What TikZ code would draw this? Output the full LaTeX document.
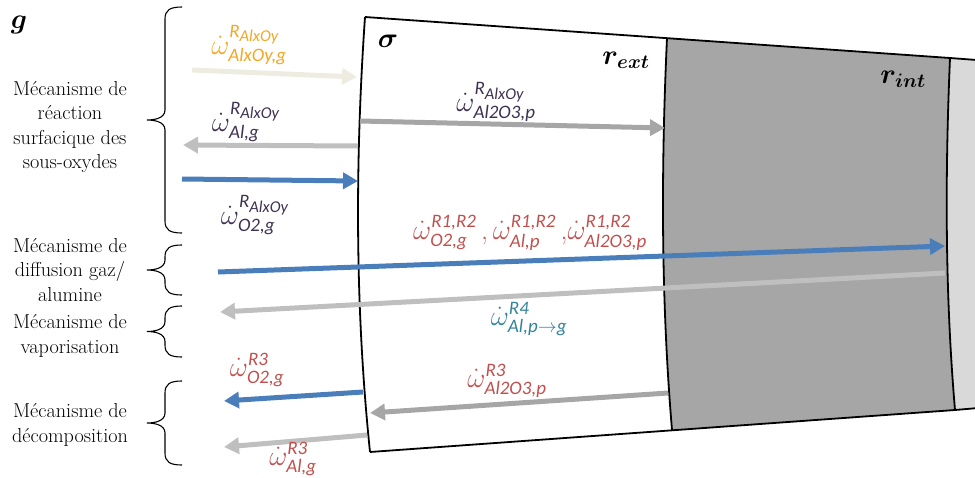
\RequirePackage{fix-cm}
\documentclass[tikz,border=0pt]{standalone}
\usepackage{amsmath}
\usepackage{fontspec}
\newfontfamily\ratefont{Carlito}
\usepackage{tikz}
\usetikzlibrary{arrows.meta,calc,positioning}
\definecolor{ratepurple}{HTML}{3F3151}
\definecolor{rateorange}{HTML}{F5A623}
\definecolor{ratered}{HTML}{C0504D}
\definecolor{rateteal}{HTML}{31849B}
\definecolor{arrblue}{HTML}{4A7EBB}
\definecolor{arrcream}{HTML}{EEECE1}
\definecolor{arrlight}{HTML}{BFBFBF}
\definecolor{arrdark}{HTML}{A6A6A6}
\definecolor{zonedark}{HTML}{A6A6A6}
\definecolor{zonelight}{HTML}{D9D9D9}
\newcommand\supsz{\fontsize{19}{19}\selectfont\ratefont\itshape}
\newcommand\subsubsz{\fontsize{16.5}{16.5}\selectfont\ratefont\itshape}
\newcommand\rsup[1]{\text{\supsz #1}}
\newcommand\rAlxOy{\text{\supsz R}_{\text{\subsubsz AlxOy}}}
\newcommand\rate[2]{$\dot{\omega}^{#1}_{\text{\supsz #2}}$}
\newcommand\mbrace[2]{%
  \draw[mechbrace] (182,#1) .. controls (170,#1) and (165,#1+3) .. (165,#1+12)
    -- (165,{(#1+#2)/2-10}) .. controls (165,{(#1+#2)/2-2}) and (155,{(#1+#2)/2}) .. (147,{(#1+#2)/2})
    .. controls (155,{(#1+#2)/2}) and (165,{(#1+#2)/2+2}) .. (165,{(#1+#2)/2+10})
    -- (165,#2-12) .. controls (165,#2-3) and (170,#2) .. (182,#2);}
\tikzset{
flux/.style = {line width=5pt, -{Triangle[length=15pt,width=16pt]}},
ratelbl/.style = {inner sep=0pt, font=\fontsize{28}{30}\selectfont},
mech/.style = {align=center, inner sep=0pt, font=\fontsize{20.2}{24.5}\selectfont},
mechbrace/.style = {line width=1.1pt},
wall/.style = {line width=1.8pt, line join=round},
zonelbl/.style = {inner sep=0pt, font=\fontsize{28}{30}\selectfont\boldmath},
}
\begin{document}
\begin{tikzpicture}[x=1pt,y=-1pt]
\clip (0,0) rectangle (975,477);
\coordinate (sT) at (365,17);
\coordinate (sB) at (370,452);
\coordinate (eT) at (667,38);
\coordinate (eB) at (672,430);
\coordinate (iT) at (950,58);
\coordinate (iB) at (955,410);
\coordinate (xT) at (990,61);
\coordinate (xB) at (990,407);
\fill[zonedark] (eT) -- (iT) .. controls (945,175) and (945,293) .. (iB) -- (eB) .. controls (661,299) and (661,169) .. (eT) -- cycle;
\fill[zonelight] (iT) -- (xT) -- (xB) -- (iB) .. controls (945,293) and (945,175) .. (iT) -- cycle;
\draw[wall] (sT) -- (iT) -- (xT);
\draw[wall] (sB) -- (iB) -- (xB);
\draw[wall] (sT) .. controls (355,162) and (355,307) .. (sB);
\draw[wall] (eT) .. controls (661,169) and (661,299) .. (eB);
\draw[wall] (iT) .. controls (945,175) and (945,293) .. (iB);

\node[zonelbl] (gas) at (19,25) {$g$};
\node[zonelbl] (sigma) at (388,41) {$\sigma$};
\node[zonelbl] (rext) at (626,60) {$r_{ext}$};
\node[zonelbl] (rint) at (903,79) {$r_{int}$};

\node[mech] (mechSurf) at (70,127) {Mécanisme de\\réaction\\surfacique des\\sous-oxydes};
\node[mech] (mechDiff) at (70,270) {Mécanisme de\\diffusion gaz/\\alumine};
\node[mech] (mechVap) at (70,336) {Mécanisme de\\vaporisation};
\node[mech] (mechDec) at (70,425) {Mécanisme de\\décomposition};
\mbrace{7}{233}
\mbrace{245}{295}
\mbrace{306}{357}
\mbrace{381}{465}

\coordinate (subIn) at (192,70);
\coordinate (subOut) at (357,77);
\coordinate (alOutS) at (358,146);
\coordinate (alOutG) at (183,145);
\coordinate (oxIn) at (182,179);
\coordinate (oxOut) at (358,181);
\coordinate (aluS) at (360,121);
\coordinate (aluE) at (665,128);
\coordinate (diffIn) at (218,272);
\coordinate (diffOut) at (945,246);
\coordinate (vapIn) at (945,273);
\coordinate (vapOut) at (220,312);
\coordinate (decOxS) at (363,392);
\coordinate (decOxG) at (224,401);
\coordinate (decAluE) at (668,393);
\coordinate (decAluS) at (370,413);
\coordinate (decAlS) at (367,435);
\coordinate (decAlG) at (224,447);

\draw[flux, arrcream] (subIn) -- (subOut);
\draw[flux, arrlight] (alOutS) -- (alOutG);
\draw[flux, arrblue] (oxIn) -- (oxOut);
\draw[flux, arrdark] (aluS) -- (aluE);
\draw[flux, arrblue] (diffIn) -- (diffOut);
\draw[flux, arrlight] (vapIn) -- (vapOut);
\draw[flux, arrblue] (decOxS) -- (decOxG);
\draw[flux, arrdark] (decAluE) -- (decAluS);
\draw[flux, arrlight] (decAlS) -- (decAlG);

\node[ratelbl, rateorange] (wSub) at (249,45) {\rate{\rAlxOy}{AlxOy,g}};
\node[ratelbl, ratepurple] (wAlG) at (246,122) {\rate{\rAlxOy}{Al,g}};
\node[ratelbl, ratepurple] (wOxG) at (255,215) {\rate{\rAlxOy}{O2,g}};
\node[ratelbl, ratepurple] (wAluP) at (496,102) {\rate{\rAlxOy}{Al2O3,p}};
\node[ratelbl, ratered] (wDiff) at (530,233) {\rate{\rsup{R1,R2}}{O2,g}\,,\,\rate{\rsup{R1,R2}}{Al,p}\,,\rate{\rsup{R1,R2}}{Al2O3,p}};
\node[ratelbl, rateteal] (wVap) at (529,319) {\rate{\rsup{R4}}{Al,p$\to$g}};
\node[ratelbl, ratered] (wDecOx) at (257,370) {\rate{\rsup{R3}}{O2,g}};
\node[ratelbl, ratered] (wDecAlu) at (507,381) {\rate{\rsup{R3}}{Al2O3,p}};
\node[ratelbl, ratered] (wDecAl) at (293,459) {\rate{\rsup{R3}}{Al,g}};
\end{tikzpicture}
\end{document}
